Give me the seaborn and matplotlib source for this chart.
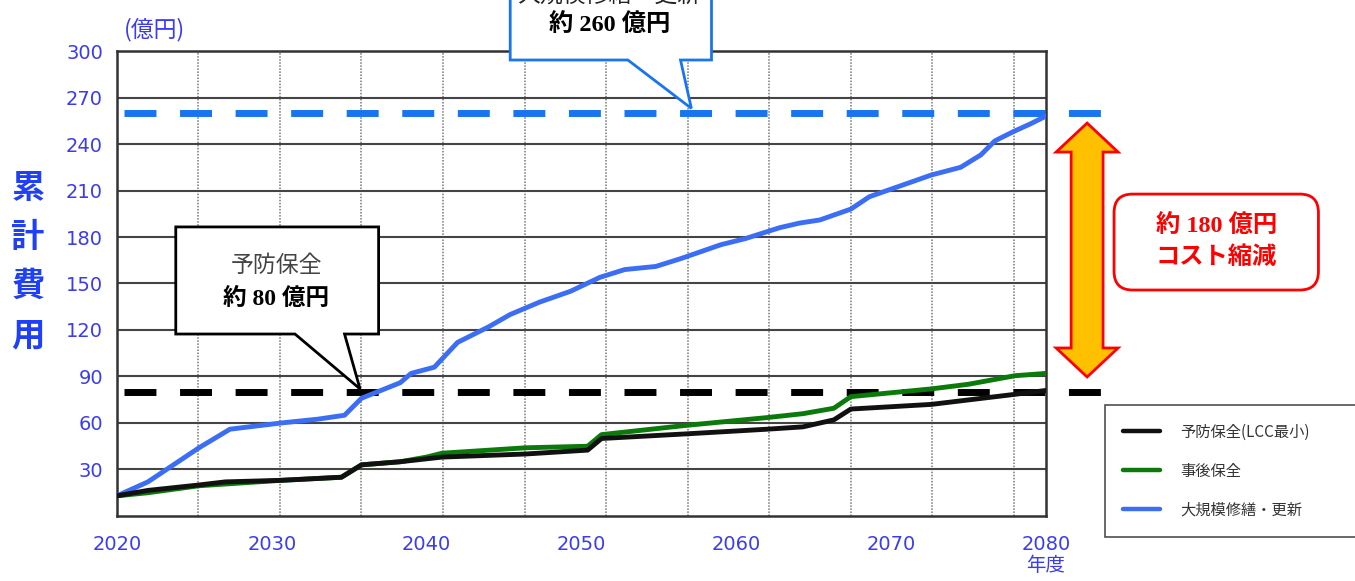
import matplotlib.pyplot as plt
import pandas as pd
import seaborn as sns
from matplotlib.lines import Line2D
from matplotlib.patches import FancyBboxPatch, Polygon

# -------------------------------------------------------
# Data (億円)
# -------------------------------------------------------

YEARS_PREV = [2020, 2022, 2025.3, 2027, 2030.6, 2034.5, 2035.8, 2038.3, 2041,
              2046.4, 2050.4, 2051.3, 2056.8, 2062, 2064.3, 2066.3, 2067.4,
              2072.6, 2078, 2080]
COST_PREV = [13, 16.5, 20, 22, 23, 25, 33, 35, 38,
             40, 42.5, 50, 53, 56, 57.5, 62, 69,
             72, 78.5, 81]

YEARS_POST = [2020, 2022, 2025.3, 2030.6, 2034.5, 2035.8, 2038.3, 2040, 2041,
              2046.4, 2050.4, 2051.3, 2056.8, 2062, 2064.3, 2066.3, 2067.4,
              2072.6, 2075, 2078, 2080]
COST_POST = [13, 15, 19.5, 23, 25, 33, 35, 38, 40.5,
             44, 45, 52.5, 58.5, 63.5, 66, 69.5, 77,
             82, 85, 90.5, 92]

YEARS_LARGE = [2020, 2022, 2025.3, 2027.3, 2030.6, 2033, 2034.7, 2035.8, 2038.3,
               2039, 2040.5, 2042, 2044, 2045.4, 2047.3, 2049.3, 2051.2, 2052.8,
               2054.8, 2056.4, 2059, 2060.6, 2062.8, 2064.1, 2065.4, 2067.4,
               2068.6, 2070.6, 2072.6, 2074.5, 2075.8, 2076.7, 2077.9, 2079, 2080]
COST_LARGE = [13, 22, 44, 56, 60, 62.5, 65, 76, 86,
              92, 96, 112, 122, 130, 138, 145, 154, 159,
              161, 166, 175, 179, 186, 189, 191, 198,
              206, 213, 220, 225, 233, 242, 248, 253, 258]

LABELS = ["予防保全(LCC最小)", "事後保全", "大規模修繕・更新"]
COLORS = ["#111111", "#0b7a0b", "#3b6ef5"]

X_TICKS = [2020, 2030, 2040, 2050, 2060, 2070, 2080]
X_TICK_LABELS = ["2020", "2030", "2040", "2050", "2060", "2070", "2080\n年度"]
Y_TICKS = list(range(30, 301, 30))

TOTAL_PREV = 80
TOTAL_LARGE = 260

# -------------------------------------------------------
# Style
# -------------------------------------------------------

sns.set_theme(style="white")
plt.rcParams["font.family"] = ["DejaVu Sans", "Noto Sans CJK JP"]

CJK = ["Noto Sans CJK JP", "DejaVu Sans"]
SERIF = ["Liberation Serif", "Noto Sans CJK JP"]
TICK_BLUE = "#3b3bf0"
LABEL_BLUE = "#1f40f5"
VGRID_STEP = 5.265

frames = [
    pd.DataFrame({"年度": YEARS_PREV, "累計費用": COST_PREV, "区分": LABELS[0]}),
    pd.DataFrame({"年度": YEARS_POST, "累計費用": COST_POST, "区分": LABELS[1]}),
    pd.DataFrame({"年度": YEARS_LARGE, "累計費用": COST_LARGE, "区分": LABELS[2]}),
]
df = pd.concat(frames, ignore_index=True)

fig = plt.figure(figsize=(13.55, 5.81), dpi=100)
ax = fig.add_axes([0.0863, 0.1119, 0.6856, 0.8003])

# reference dashed lines (drawn under the curves)
ax.plot([2020.45, 2084], [TOTAL_LARGE, TOTAL_LARGE], color="#1874f0", lw=5,
        ls=(0, (4.6, 3.4)), clip_on=False, zorder=1.5, solid_capstyle="butt")
ax.plot([2020.45, 2083.8], [TOTAL_PREV, TOTAL_PREV], color="black", lw=5,
        ls=(0, (4.6, 3.4)), clip_on=False, zorder=1.5, solid_capstyle="butt")

sns.lineplot(
    data=df,
    x="年度",
    y="累計費用",
    hue="区分",
    hue_order=LABELS[::-1],
    palette=dict(zip(LABELS, COLORS)),
    linewidth=3.5,
    estimator=None,
    legend=False,
    ax=ax,
    zorder=3,
)

ax.set_xlim(2020, 2080)
ax.set_ylim(0, 300)
ax.set_xlabel("")
ax.set_ylabel("")

ax.set_xticks(X_TICKS)
ax.set_xticklabels(X_TICK_LABELS, linespacing=1.1)
ax.set_yticks(Y_TICKS)
ax.set_xticks([2020 + k * VGRID_STEP for k in range(1, 12)], minor=True)
ax.tick_params(axis="both", which="both", length=0, colors=TICK_BLUE, labelsize=14)
ax.tick_params(axis="x", pad=14)
ax.tick_params(axis="y", pad=10)

ax.yaxis.grid(True, color="#444444", lw=1.5, ls="-")
ax.xaxis.grid(True, which="minor", color="#777777", lw=1.1, ls=(0, (1, 1)))
ax.xaxis.grid(False, which="major")
for spine in ax.spines.values():
    spine.set_color("#333333")
    spine.set_linewidth(1.8)

# -------------------------------------------------------
# Axis captions
# -------------------------------------------------------

fig.text(155 / 1355, 1 - 30 / 581, "(億円)", ha="center", va="center",
         color=TICK_BLUE, fontsize=16.5, family=CJK)
fig.text(28 / 1355, 1 - 262 / 581, "累\n計\n費\n用", ha="center", va="center",
         color=LABEL_BLUE, fontsize=24, fontweight="bold", linespacing=1.62,
         family=CJK)

# -------------------------------------------------------
# Callouts
# -------------------------------------------------------

prev_box = Polygon(
    [(2023.8, 186.5), (2036.9, 186.5), (2036.9, 117.4), (2034.7, 117.4),
     (2035.7, TOTAL_PREV + 2), (2031.5, 117.4), (2023.8, 117.4)],
    closed=True, facecolor="white", edgecolor="black", lw=2,
    clip_on=False, zorder=5,
)
ax.add_patch(prev_box)
ax.text(2030.3, 161, "予防保全", ha="center", va="center", color="#444444",
        fontsize=16.5, family=SERIF, zorder=6)
ax.text(2030.3, 140, f"約 {TOTAL_PREV} 億円", ha="center", va="center",
        color="black", fontsize=17, fontweight="bold", family=SERIF, zorder=6)

large_box = Polygon(
    [(2045.4, 360), (2058.4, 360), (2058.4, 294.2), (2056.4, 294.2),
     (2057.1, TOTAL_LARGE + 3), (2053.0, 294.2), (2045.4, 294.2)],
    closed=True, facecolor="white", edgecolor="#1874f0", lw=2,
    clip_on=False, zorder=5,
)
ax.add_patch(large_box)
ax.text(2051.8, 335.5, "大規模修繕・更新", ha="center", va="center",
        color="#222222", fontsize=16.5, family=SERIF, zorder=6, clip_on=False)
ax.text(2051.8, 316.5, f"約 {TOTAL_LARGE} 億円", ha="center", va="center",
        color="black", fontsize=17.5, fontweight="bold", family=SERIF, zorder=6,
        clip_on=False)

# double arrow between the two totals
cx, sw, hw = 2082.66, 1.03, 2.0
tip_t, base_t, base_b, tip_b = 253.5, 234.8, 108.4, 89.7
arrow = Polygon(
    [(cx, tip_t), (cx + hw, base_t), (cx + sw, base_t), (cx + sw, base_b),
     (cx + hw, base_b), (cx, tip_b), (cx - hw, base_b), (cx - sw, base_b),
     (cx - sw, base_t), (cx - hw, base_t)],
    closed=True, facecolor="#FFC000", edgecolor="red", lw=2,
    clip_on=False, zorder=5,
)
ax.add_patch(arrow)

saving_box = FancyBboxPatch(
    (2084.4, 145.8), 13.2, 61.9,
    boxstyle="round,pad=0,rounding_size=1.2", mutation_aspect=10,
    facecolor="white", edgecolor="red", lw=2, clip_on=False, zorder=5,
)
ax.add_patch(saving_box)
ax.text(2091.0, 186.5, f"約 {TOTAL_LARGE - TOTAL_PREV} 億円", ha="center",
        va="center", color="red", fontsize=17.5, fontweight="bold", family=SERIF,
        clip_on=False, zorder=6)
ax.text(2091.0, 166.5, "コスト縮減", ha="center", va="center", color="red",
        fontsize=17.5, fontweight="bold", family=SERIF, clip_on=False, zorder=6)

# -------------------------------------------------------
# Legend (its right edge runs past the picture, as in the source)
# -------------------------------------------------------

handles = [Line2D([], [], color=c, lw=3.2) for c in COLORS]
leg = fig.legend(
    handles, LABELS,
    loc="upper left",
    bbox_to_anchor=(0.8155, 0.0723, 0.30, 0.2306),
    mode="expand",
    frameon=True,
    fancybox=False,
    edgecolor="#222222",
    prop={"family": CJK, "size": 11},
    handlelength=2.4,
    handletextpad=1.3,
    labelspacing=1.45,
    borderpad=1.2,
    borderaxespad=0,
)
leg.get_frame().set_linewidth(1.2)
for t in leg.get_texts():
    t.set_color("#333333")

fig.savefig("out.png", dpi=100)
